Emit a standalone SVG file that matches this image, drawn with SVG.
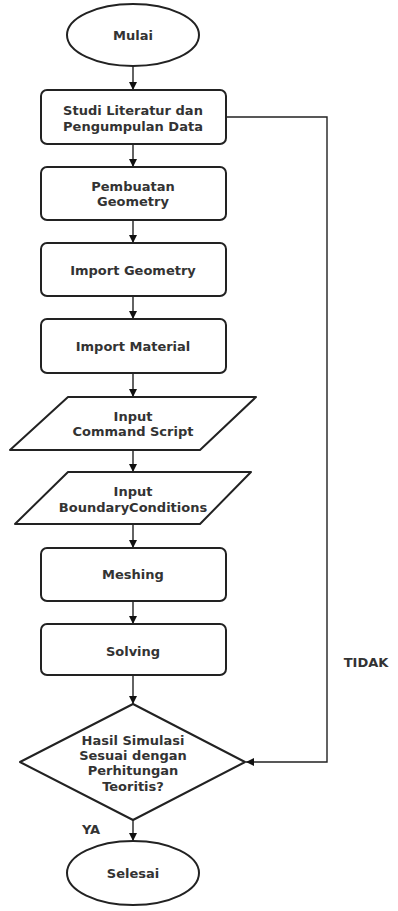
<svg xmlns="http://www.w3.org/2000/svg" width="398" height="911" viewBox="0 0 398 911">
<defs>
<marker id="ah" markerWidth="8" markerHeight="8" refX="8" refY="4" orient="auto" markerUnits="userSpaceOnUse">
<path d="M0,0 L8,4 L0,8 Z" fill="#111"/>
</marker>
<style>
.s{fill:#fff;stroke:#222;stroke-width:2}
.t{font-family:"DejaVu Sans",Verdana,sans-serif;font-weight:bold;font-size:13px;fill:#333;text-anchor:middle}
.c{fill:none;stroke:#222;stroke-width:1.4}
</style>
</defs>
<rect width="398" height="911" fill="#fff"/>
<g id="connectors">
<line class="c" x1="133" y1="67" x2="133" y2="90" marker-end="url(#ah)"/>
<line class="c" x1="133" y1="144" x2="133" y2="167" marker-end="url(#ah)"/>
<line class="c" x1="133" y1="220" x2="133" y2="243" marker-end="url(#ah)"/>
<line class="c" x1="133" y1="296" x2="133" y2="319" marker-end="url(#ah)"/>
<line class="c" x1="133" y1="373" x2="133" y2="397" marker-end="url(#ah)"/>
<line class="c" x1="133" y1="450" x2="133" y2="472" marker-end="url(#ah)"/>
<line class="c" x1="133" y1="524" x2="133" y2="548" marker-end="url(#ah)"/>
<line class="c" x1="133" y1="601" x2="133" y2="624" marker-end="url(#ah)"/>
<line class="c" x1="133" y1="675" x2="133" y2="704" marker-end="url(#ah)"/>
<line class="c" x1="133" y1="820" x2="133" y2="841" marker-end="url(#ah)"/>
<polyline class="c" points="226,117 327,117 327,762 246,762" marker-end="url(#ah)"/>
<text class="t" x="366" y="666.5">TIDAK</text>
<text class="t" x="91" y="833.5">YA</text>
</g>
<g id="mulai">
<ellipse class="s" cx="133" cy="35" rx="66" ry="31"/>
<text class="t" x="133" y="39.5">Mulai</text>
</g>
<g id="studi">
<rect class="s" x="41" y="90" width="185" height="54" rx="6"/>
<text class="t" x="133" y="115">Studi Literatur dan</text>
<text class="t" x="133" y="131">Pengumpulan Data</text>
</g>
<g id="pembuatan">
<rect class="s" x="41" y="167" width="185" height="53" rx="6"/>
<text class="t" x="133" y="191">Pembuatan</text>
<text class="t" x="133" y="206">Geometry</text>
</g>
<g id="importGeometry">
<rect class="s" x="41" y="243" width="185" height="53" rx="6"/>
<text class="t" x="133" y="274.5">Import Geometry</text>
</g>
<g id="importMaterial">
<rect class="s" x="41" y="319" width="185" height="54" rx="6"/>
<text class="t" x="133" y="350.5">Import Material</text>
</g>
<g id="inputCommand">
<polygon class="s" points="68,397 256,397 200,450 10,450" stroke-linejoin="round"/>
<text class="t" x="133" y="421">Input</text>
<text class="t" x="133" y="436">Command Script</text>
</g>
<g id="inputBoundary">
<polygon class="s" points="68,472 251,472 200,524 15,524" stroke-linejoin="round"/>
<text class="t" x="133" y="495.5">Input</text>
<text class="t" x="133" y="511.5">BoundaryConditions</text>
</g>
<g id="meshing">
<rect class="s" x="41" y="548" width="185" height="53" rx="6"/>
<text class="t" x="133" y="578.5">Meshing</text>
</g>
<g id="solving">
<rect class="s" x="41" y="624" width="185" height="51" rx="6"/>
<text class="t" x="133" y="655.5">Solving</text>
</g>
<g id="decision">
<polygon class="s" points="133,704 245,762 133,820 20,762" stroke-linejoin="round"/>
<text class="t" x="133" y="744.5">Hasil Simulasi</text>
<text class="t" x="133" y="759.5">Sesuai dengan</text>
<text class="t" x="133" y="775">Perhitungan</text>
<text class="t" x="133" y="790.5">Teoritis?</text>
</g>
<g id="selesai">
<ellipse class="s" cx="133" cy="873" rx="66" ry="32"/>
<text class="t" x="133" y="877.5">Selesai</text>
</g>
</svg>
